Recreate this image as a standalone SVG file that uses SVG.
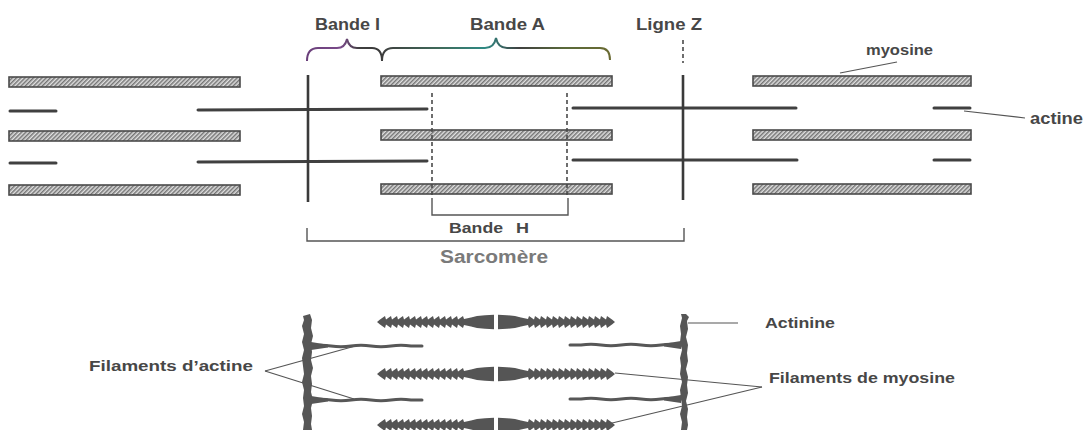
<svg xmlns="http://www.w3.org/2000/svg" xmlns:xlink="http://www.w3.org/1999/xlink" width="1089" height="430" viewBox="0 0 1089 430">
  <style>
    .lbl { font-family: "Liberation Sans", Arial, sans-serif; font-weight: bold; fill: #474747; }
    .bar { fill: url(#hatch); stroke: #4a4a4a; stroke-width: 1.6; }
    .actin { stroke: #404040; stroke-width: 3; stroke-linecap: round; fill: none; }
    .zline { stroke: #3a3a3a; stroke-width: 2.6; fill: none; }
    .dash { stroke: #4a4a4a; stroke-width: 1.6; stroke-dasharray: 4 3; fill: none; }
    .lead { stroke: #555; stroke-width: 1.2; fill: none; }
    .brk { stroke: #555; stroke-width: 1.4; fill: none; }
    .disc { fill: #565656; }
    .bact { stroke: #575757; stroke-width: 3; fill: none; stroke-linecap: round; }
    .myo { fill: #555; }
  </style>
  <defs>
    <pattern id="hatch" patternUnits="userSpaceOnUse" width="3" height="3" patternTransform="rotate(45)">
      <rect width="3" height="3" fill="#e0e0e0"/>
      <line x1="0.8" y1="0" x2="0.8" y2="3" stroke="#5a5a5a" stroke-width="1.2"/>
    </pattern>
    <linearGradient id="braceI" gradientUnits="userSpaceOnUse" x1="307" y1="0" x2="382" y2="0">
      <stop offset="0" stop-color="#6a3f7a"/>
      <stop offset="0.45" stop-color="#7a4a8a"/>
      <stop offset="0.7" stop-color="#3e3e3e"/>
      <stop offset="1" stop-color="#3a3a3a"/>
    </linearGradient>
    <linearGradient id="braceA" gradientUnits="userSpaceOnUse" x1="382" y1="0" x2="611" y2="0">
      <stop offset="0" stop-color="#3e3e3e"/>
      <stop offset="0.25" stop-color="#3f6a5a"/>
      <stop offset="0.45" stop-color="#2f8a84"/>
      <stop offset="0.6" stop-color="#404040"/>
      <stop offset="0.8" stop-color="#5a6a3a"/>
      <stop offset="1" stop-color="#6a6a32"/>
    </linearGradient>
    <!-- half of a thick filament: barbed tail on the left, bare thickened zone toward the centre -->
    <path id="myo-half" class="myo" d="M0,0 L3,-2.5 L8,-6 L9,-2.5 L14,-6 L15,-2.5 L20,-6 L21,-2.5 L26,-6 L27,-2.5 L32,-6 L33,-2.5 L38,-6 L39,-2.5 L44,-6 L45,-2.5 L50,-6 L51,-2.5 L56,-6 L57,-2.5 L62,-6 L63,-2.5 L68,-6 L69,-2.5 L74,-6 L75,-2.5 L80,-6 L81,-2.5 L86,-6 L87,-3 L94,-4.5 L100,-6 L108,-6.8 L117,-7.2 L117,7.2 L108,6.8 L100,6 L94,4.5 L87,3 L86,6 L81,2.5 L80,6 L75,2.5 L74,6 L69,2.5 L68,6 L63,2.5 L62,6 L57,2.5 L56,6 L51,2.5 L50,6 L45,2.5 L44,6 L39,2.5 L38,6 L33,2.5 L32,6 L27,2.5 L26,6 L21,2.5 L20,6 L15,2.5 L14,6 L9,2.5 L8,6 L3,2.5 Z"/>
    <!-- thin filament anchored on a disc, with its flared root -->
    <g id="thin-left">
      <path class="bact" d="M311,0 Q321,-1.5 331,0 T351,0 T371,0 T391,0 T411,0 L422,0"/>
      <polygon class="disc" points="311,-4 328,-1.2 328,1.4 311,4"/>
    </g>
    <g id="thin-right">
      <path class="bact" d="M681,0 Q671,-1.5 661,0 T641,0 T621,0 T601,0 T581,0 L570,0"/>
      <polygon class="disc" points="681,-4 664,-1.2 664,1.4 681,4"/>
    </g>
  </defs>

  <rect width="1089" height="430" fill="#ffffff"/>

  <!-- ===== Upper scheme: sarcomere ===== -->
  <g id="myosin-left">
    <rect class="bar" x="9" y="77" width="231" height="10"/>
    <rect class="bar" x="9" y="131" width="231" height="10"/>
    <rect class="bar" x="9" y="185" width="231" height="10"/>
  </g>
  <g id="myosin-center">
    <rect class="bar" x="381" y="76" width="231" height="10"/>
    <rect class="bar" x="381" y="130" width="231" height="10"/>
    <rect class="bar" x="381" y="184" width="231" height="10"/>
  </g>
  <g id="myosin-right">
    <rect class="bar" x="753" y="76" width="218" height="10"/>
    <rect class="bar" x="753" y="130" width="218" height="10"/>
    <rect class="bar" x="753" y="184" width="218" height="10"/>
  </g>

  <g id="actin-left">
    <line class="actin" x1="10" y1="111" x2="56" y2="111"/>
    <line class="actin" x1="10" y1="163" x2="56" y2="163"/>
    <line class="actin" x1="198" y1="110" x2="427" y2="109"/>
    <line class="actin" x1="198" y1="162" x2="427" y2="161"/>
  </g>
  <g id="actin-right">
    <line class="actin" x1="573" y1="108" x2="796" y2="108"/>
    <line class="actin" x1="573" y1="160" x2="797" y2="160"/>
    <line class="actin" x1="934" y1="108" x2="970" y2="108"/>
    <line class="actin" x1="934" y1="160" x2="970" y2="160"/>
  </g>

  <g id="z-line-left">
    <line class="zline" x1="308" y1="75" x2="308" y2="202"/>
  </g>
  <g id="z-line-right">
    <line class="zline" x1="683" y1="75" x2="683" y2="200"/>
    <line class="dash" x1="683" y1="40" x2="683" y2="63" stroke-width="2"/>
  </g>

  <g id="connectors">
    <!-- H zone limits and bracket -->
    <line class="dash" x1="432" y1="93" x2="432" y2="197"/>
    <line class="dash" x1="567" y1="93" x2="567" y2="197"/>
    <path class="brk" d="M432,198 V215 H568 V198"/>
    <!-- sarcomere bracket -->
    <path class="brk" d="M307,228 V241 H684 V228"/>
    <!-- band braces -->
    <path d="M307,61 Q307,48 318,48 L337,48 Q345,48 347,39 Q349,48 357,48 L372,48 Q382,48 382,61" fill="none" stroke="url(#braceI)" stroke-width="2"/>
    <path d="M382,61 Q382,48 393,48 L485,48 Q494,48 496,38 Q498,48 507,48 L600,48 Q610,48 610,60" fill="none" stroke="url(#braceA)" stroke-width="2"/>
    <!-- label leaders -->
    <line class="lead" x1="840" y1="73" x2="897" y2="62"/>
    <line class="lead" x1="964" y1="111" x2="1025" y2="118"/>
    <line class="lead" x1="688" y1="323" x2="738" y2="323"/>
    <line class="lead" x1="265" y1="371" x2="359" y2="345"/>
    <line class="lead" x1="265" y1="371" x2="354" y2="399"/>
    <line class="lead" x1="615" y1="373" x2="762" y2="387"/>
    <line class="lead" x1="608" y1="424" x2="762" y2="387"/>
  </g>

  <g id="labels-top">
    <text class="lbl" x="315" y="30" font-size="16" textLength="65" lengthAdjust="spacingAndGlyphs">Bande I</text>
    <text class="lbl" x="470" y="30" font-size="16" textLength="75" lengthAdjust="spacingAndGlyphs">Bande A</text>
    <text class="lbl" x="636" y="30" font-size="16" textLength="66" lengthAdjust="spacingAndGlyphs">Ligne Z</text>
    <text class="lbl" x="866" y="55" font-size="15" font-weight="normal" textLength="67" lengthAdjust="spacingAndGlyphs">myosine</text>
    <text class="lbl" x="1030" y="124" font-size="16" textLength="53" lengthAdjust="spacingAndGlyphs">actine</text>
    <text class="lbl" y="233" font-size="15"><tspan x="449" textLength="54" lengthAdjust="spacingAndGlyphs">Bande</tspan> <tspan x="516" textLength="13" lengthAdjust="spacingAndGlyphs">H</tspan></text>
    <text class="lbl" x="440" y="263" font-size="18" style="fill:#7a7a7a" textLength="108" lengthAdjust="spacingAndGlyphs">Sarcomère</text>
  </g>

  <!-- ===== Lower scheme: molecular detail ===== -->
  <g id="disc-left">
    <path class="disc" d="M303,316 L310,314 L312,320 L311,328 L313,336 L311,344 L312,352 L311,360 L313,368 L311,376 L312,384 L311,392 L313,400 L311,408 L312,416 L311,424 L312,430 L303,430 L304,422 L302,414 L304,406 L303,398 L304,390 L302,382 L304,374 L303,366 L302,358 L304,350 L302,342 L304,334 L302,326 L304,320 Z"/>
  </g>
  <g id="disc-right">
    <path class="disc" d="M681,314 L686,314 L689,317 L687,321 L688,329 L686,337 L688,345 L687,353 L688,361 L686,369 L688,377 L687,385 L688,393 L686,401 L688,409 L687,417 L688,425 L687,430 L681,430 L682,422 L680,414 L682,406 L681,398 L680,390 L682,382 L680,374 L681,366 L680,358 L682,350 L680,342 L681,334 L680,326 L682,318 Z"/>
  </g>
  <g id="thin-filaments">
    <use xlink:href="#thin-left" href="#thin-left" transform="translate(0,346)"/>
    <use xlink:href="#thin-left" href="#thin-left" transform="translate(0,400)"/>
    <use xlink:href="#thin-right" href="#thin-right" transform="translate(0,345)"/>
    <use xlink:href="#thin-right" href="#thin-right" transform="translate(0,399)"/>
  </g>
  <g id="thick-filaments">
    <use xlink:href="#myo-half" href="#myo-half" transform="translate(377,322)"/>
    <use xlink:href="#myo-half" href="#myo-half" transform="translate(615,322) scale(-1,1)"/>
    <use xlink:href="#myo-half" href="#myo-half" transform="translate(377,374)"/>
    <use xlink:href="#myo-half" href="#myo-half" transform="translate(615,374) scale(-1,1)"/>
    <use xlink:href="#myo-half" href="#myo-half" transform="translate(377,425)"/>
    <use xlink:href="#myo-half" href="#myo-half" transform="translate(615,425) scale(-1,1)"/>
  </g>

  <g id="labels-bottom">
    <text class="lbl" x="765" y="328" font-size="15" textLength="70" lengthAdjust="spacingAndGlyphs">Actinine</text>
    <text class="lbl" x="89" y="371" font-size="15" textLength="164" lengthAdjust="spacingAndGlyphs">Filaments d’actine</text>
    <text class="lbl" x="769" y="383" font-size="15" textLength="186" lengthAdjust="spacingAndGlyphs">Filaments de myosine</text>
  </g>
</svg>
